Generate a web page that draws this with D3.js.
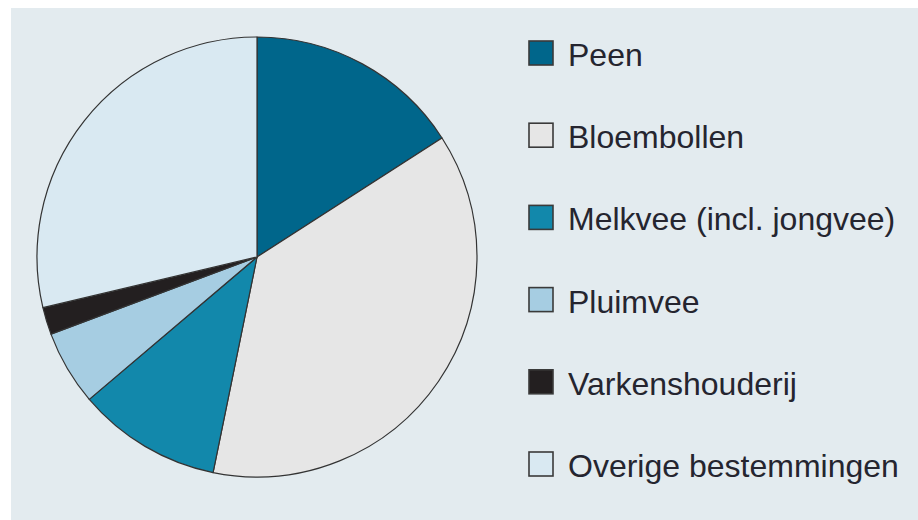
<!DOCTYPE html>
<html><head><meta charset="utf-8">
<script src="https://cdn.jsdelivr.net/npm/d3@7"></script>
<style>html,body{margin:0;padding:0;background:#fff;}svg{display:block;}</style>
</head><body>
<script>
const categories = ["Peen", "Bloembollen", "Melkvee (incl. jongvee)", "Pluimvee", "Varkenshouderij", "Overige bestemmingen"];
const values = [15.9, 37.3, 10.6, 5.5, 2.0, 28.7];
const colors = ["#00668b", "#e6e6e6", "#1288ab", "#a6cde2", "#231f20", "#d9e9f2"];

const W = 918, H = 520;
const svg = d3.select("body").append("svg").attr("width", W).attr("height", H);
svg.append("rect").attr("x", 11).attr("y", 8).attr("width", W - 11).attr("height", H - 8).attr("fill", "#e3ebef");

const data = categories.map((c, i) => ({ name: c, value: values[i], color: colors[i] }));
const pie = d3.pie().value(d => d.value).sort(null);
const arc = d3.arc().innerRadius(0).outerRadius(220);
const g = svg.append("g").attr("transform", "translate(257,257)");
g.selectAll("path").data(pie(data)).join("path")
  .attr("d", arc)
  .attr("fill", d => d.data.color)
  .attr("stroke", "#333")
  .attr("stroke-width", 1.2)
  .attr("stroke-linejoin", "round");

const y = d3.scalePoint().domain(categories).range([53, 464]);
const leg = svg.append("g").selectAll("g").data(data).join("g")
  .attr("transform", d => `translate(528,${y(d.name)})`);
leg.append("rect").attr("x", 1).attr("y", -12).attr("width", 24).attr("height", 24)
  .attr("fill", d => d.color).attr("stroke", "#3a3a3a").attr("stroke-width", 1.6);
leg.append("text").attr("x", 40).attr("y", 13)
  .attr("font-family", "Liberation Sans, Arial, sans-serif")
  .attr("font-size", 32).attr("fill", "#25252f")
  .text(d => d.name);
</script>
</body></html>
